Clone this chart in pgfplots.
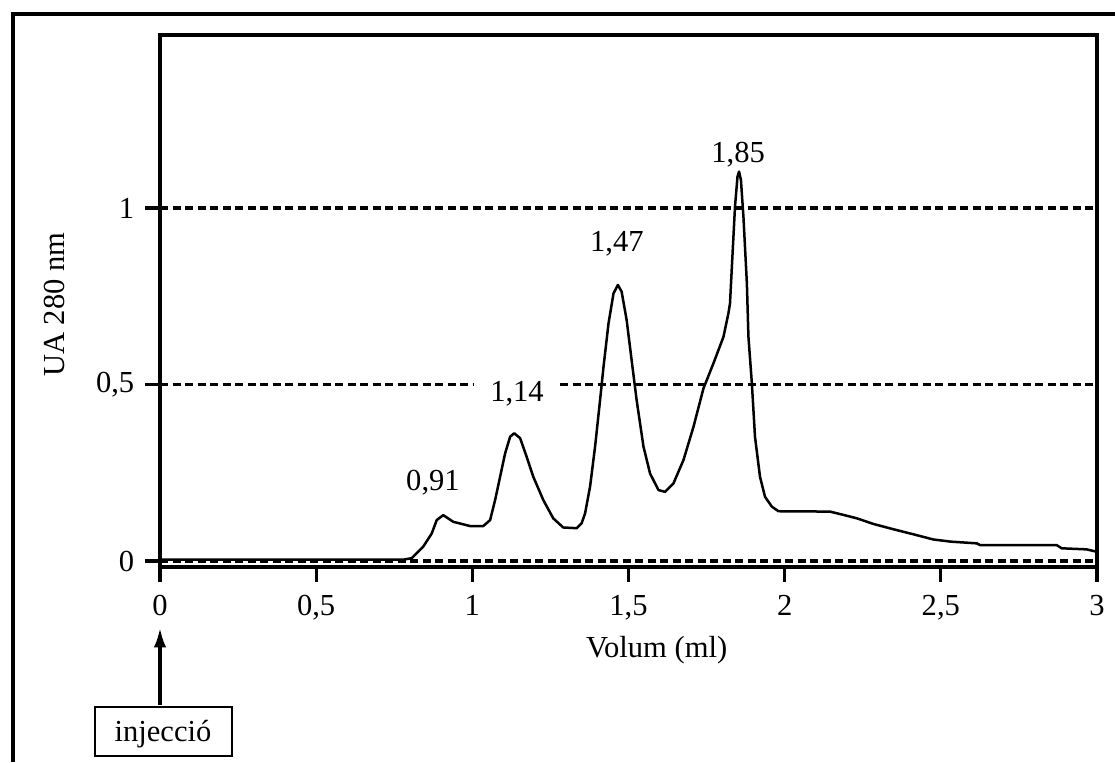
\documentclass[border=0pt]{standalone}
\usepackage{fontspec}
\setmainfont{Liberation Serif}
\usepackage{pgfplots}
\pgfplotsset{compat=1.18}
\usetikzlibrary{arrows.meta}
\pgfplotstableread{
x y
0.000 0.004
0.400 0.004
0.780 0.004
0.806 0.008
0.843 0.041
0.870 0.078
0.886 0.116
0.907 0.130
0.939 0.111
0.993 0.099
1.035 0.099
1.057 0.116
1.073 0.173
1.089 0.239
1.105 0.305
1.121 0.352
1.134 0.362
1.153 0.348
1.174 0.295
1.195 0.239
1.227 0.173
1.259 0.121
1.291 0.095
1.334 0.093
1.350 0.107
1.361 0.135
1.377 0.211
1.393 0.324
1.409 0.456
1.420 0.550
1.436 0.673
1.452 0.758
1.466 0.782
1.478 0.763
1.494 0.683
1.510 0.569
1.526 0.456
1.548 0.324
1.569 0.248
1.596 0.201
1.617 0.196
1.644 0.220
1.676 0.286
1.708 0.380
1.740 0.489
1.772 0.560
1.804 0.635
1.820 0.702
1.825 0.730
1.831 0.834
1.841 1.004
1.849 1.089
1.854 1.103
1.860 1.079
1.868 0.975
1.879 0.787
1.884 0.635
1.895 0.503
1.905 0.352
1.921 0.239
1.937 0.182
1.959 0.154
1.980 0.141
2.145 0.140
2.177 0.133
2.231 0.121
2.284 0.105
2.348 0.090
2.402 0.078
2.476 0.061
2.530 0.055
2.615 0.050
2.626 0.045
2.871 0.045
2.887 0.036
2.967 0.033
3.000 0.026
}\chromdata
\begin{document}
\fontsize{11pt}{13pt}\selectfont
\begin{tikzpicture}
\path[use as bounding box] (-57.6pt,-70.2pt) rectangle (343.8pt,204.12pt);
\draw[line width=1.2pt] (-52.92pt,-70.2pt) -- (-52.92pt,199.08pt) -- (343.8pt,199.08pt);
\begin{axis}[
  at={(0pt,0pt)}, anchor=south west,
  scale only axis, width=337.32pt, height=191.52pt,
  xmin=0, xmax=3, ymin=-0.017, ymax=1.49,
  xtick={0,0.5,1,1.5,2,2.5,3}, ytick={0,0.5,1},
  /pgf/number format/assume math mode=true,
  /pgf/number format/use comma,
  tick align=outside, tick pos=left,
  major tick length=5.4pt,
  tick style={black, line width=1.1pt},
  axis line style={black, line width=1.2pt},
  ymajorgrids,
  major grid style={black, line width=1.1pt, dash pattern=on 3pt off 1.5pt},
  xticklabel style={yshift=-1pt},
  xlabel={Volum (ml)}, ylabel={UA 280 nm},
  xlabel style={at={(axis description cs:0.53,-0.156)}, anchor=center},
  ylabel style={at={(axis description cs:-0.113,0.493)}, anchor=center},
]
\addplot[black, line width=0.9pt, line join=round] table[x=x, y=y] {\chromdata};
\node at (axis cs:0.874,0.221) {0,91};
\node[fill=white, inner xsep=6pt, inner ysep=1pt] at (axis cs:1.143,0.473) {1,14};
\node at (axis cs:1.463,0.900) {1,47};
\node at (axis cs:1.851,1.150) {1,85};
\end{axis}
\draw[line width=1.1pt, -{Latex[length=7pt,width=4.5pt]}] (0pt,-49.68pt) -- (0pt,-21.96pt);
\draw[line width=1pt] (-23.4pt,-68.04pt) rectangle (25.92pt,-50.4pt);
\node at (1.08pt,-60.2pt) {injecció};
\end{tikzpicture}
\end{document}
